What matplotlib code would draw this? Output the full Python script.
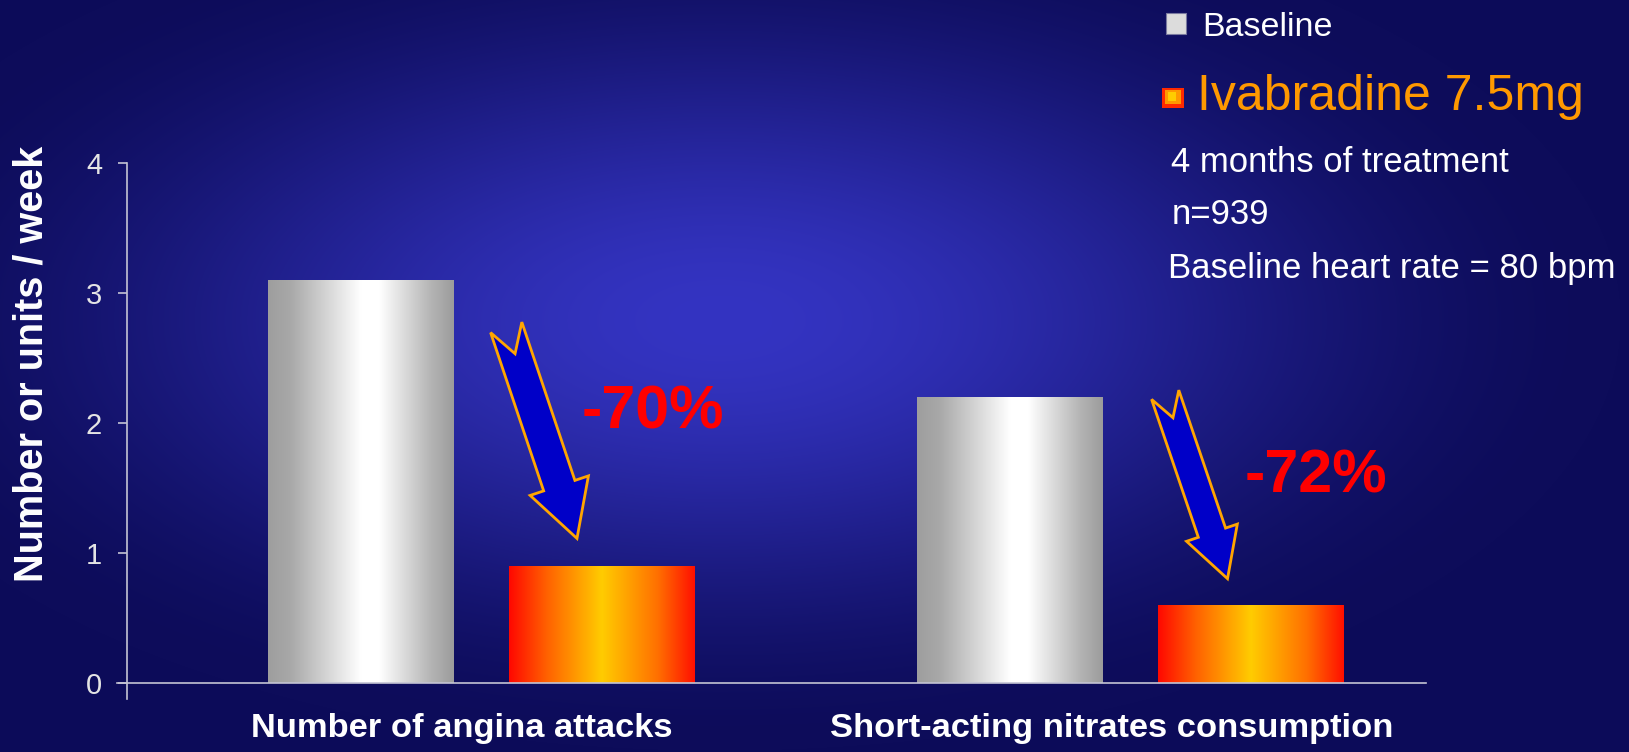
import numpy as np
import matplotlib.pyplot as plt
from matplotlib.colors import LinearSegmentedColormap
from matplotlib.patches import Polygon, Rectangle

plt.rcParams['font.family'] = ['Liberation Sans', 'DejaVu Sans']

categories = ['Number of angina attacks', 'Short-acting nitrates consumption']
baseline = [3.1, 2.2]
ivabradine = [0.9, 0.6]
reductions = ['-70%', '-72%']
yticks = [0, 1, 2, 3, 4]

# arrow tails / tip x and label anchors (data coords)
arrow_tails = [(0.568, 2.735), (1.583, 2.216)]
arrow_tip_x = [0.677, 1.679]
arrow_gap = [0.21, 0.20]
label_pos = [(0.684, 1.96), (1.705, 1.467)]

W, H = 1629, 752
fig = plt.figure(figsize=(W / 100, H / 100), dpi=100)


def px(x, y):
    return x / W, 1 - y / H


# navy backdrop with a blue glow in the middle
bg = fig.add_axes([0, 0, 1, 1])
yy, xx = np.mgrid[0:H, 0:W]
r = np.clip(np.sqrt(((xx - 720) / 900) ** 2 + ((yy - 320) / 430) ** 2), 0, 1)
f = (r * r * (3 - 2 * r))[..., None]
inner = np.array([0x34, 0x34, 0xc2]) / 255
outer = np.array([0x0d, 0x0c, 0x5a]) / 255
bg.imshow(inner * (1 - f) + outer * f, extent=[0, 1, 0, 1], aspect='auto', origin='upper')
bg.axis('off')

ax = fig.add_axes([0.0778, 0.0705, 0.7973, 0.7127])
ax.patch.set_visible(False)

x = np.arange(len(categories)) + 0.5
bw = 0.285
bars_b = ax.bar(x - 0.157, baseline, width=bw, color='#d0d0d0', zorder=2)
bars_i = ax.bar(x + 0.215, ivabradine, width=bw, color='#ffaa00', zorder=2)

steel = LinearSegmentedColormap.from_list('steel', [(0, '#9e9e9e'), (0.12, '#a8a8a8'), (0.5, '#ffffff'),
                                                    (0.6, '#ffffff'), (0.88, '#b4b4b4'), (1, '#9c9c9c')])
fire = LinearSegmentedColormap.from_list('fire', [(0, '#ff0800'), (0.2, '#ff6000'), (0.5, '#ffcc00'),
                                                  (0.8, '#ff7000'), (1, '#ff1000')])
ramp = np.linspace(0, 1, 256)[None, :]
for bars, cm in ((bars_b, steel), (bars_i, fire)):
    for b in bars:
        ax.imshow(ramp, cmap=cm, aspect='auto', zorder=3,
                  extent=[b.get_x(), b.get_x() + b.get_width(), 0, b.get_height()])

ax.set_xlim(-0.0165, 1.984)
ax.set_ylim(-0.126, 4)

axis_col = '#c4c4d4'
for s in ('top', 'right', 'bottom'):
    ax.spines[s].set_visible(False)
ax.spines['left'].set_color(axis_col)
ax.spines['left'].set_linewidth(1.2)
ax.plot([-0.031, 1.984], [0, 0], color=axis_col, lw=1.2, clip_on=False, zorder=4)

ax.set_yticks(yticks)
ax.tick_params(axis='y', length=6.8, width=1.2, color=axis_col, labelcolor='#e4e4e4',
               labelsize=21, pad=11)
ax.set_xticks(x, categories)
ax.tick_params(axis='x', length=0, pad=10, labelsize=24.8, labelcolor='white')
for t in ax.get_xticklabels():
    t.set_fontweight('bold')

fig.text(*px(32, 364), 'Number or units / week', rotation=90, ha='center', va='center',
         fontsize=28.5, fontweight='bold', color='white')


# notched block arrows pointing down at the treated bars
def block_arrow(tail, tip):
    p0 = ax.transData.transform(tail)
    p1 = ax.transData.transform(tip)
    d = p1 - p0
    L = np.hypot(*d)
    u = d / L
    n = np.array([-u[1], u[0]])
    shape = [(0, 0.074), (0.75, 0.074), (0.75, 0.138), (1, 0), (0.75, -0.138),
             (0.75, -0.074), (0, -0.074), (0.125, 0)]
    pts = np.array([p0 + s * L * u + t * L * n for s, t in shape])
    pts = ax.transData.inverted().transform(pts)
    ax.add_patch(Polygon(pts, closed=True, facecolor='#0000c8', edgecolor='#ffa500',
                         lw=2.0, joinstyle='miter', clip_on=False, zorder=5))


for i in range(len(categories)):
    tip = (arrow_tip_x[i], ivabradine[i] + arrow_gap[i])
    block_arrow(arrow_tails[i], tip)
    ax.text(*label_pos[i], reductions[i], color='#ff0000', fontsize=44, fontweight='bold',
            ha='left', va='baseline', zorder=6)

# legend and study notes
fig.add_artist(Rectangle(px(1166, 34.3), 20 / W, 21 / H, facecolor='#dcdcdc',
                         edgecolor='#7a7aa0', lw=0.8))
fig.text(*px(1202, 36), 'Baseline', fontsize=24.5, color='white', va='baseline')

fig.add_artist(Rectangle(px(1162, 107.7), 22 / W, 20 / H, facecolor='#ff2a00', lw=0))
fig.add_artist(Rectangle(px(1164.5, 104), 16 / W, 14 / H, facecolor='#ff9900', lw=0))
fig.add_artist(Rectangle(px(1167.5, 100.5), 8 / W, 8.5 / H, facecolor='#ffcc00', lw=0))
fig.text(*px(1197, 110), 'Ivabradine 7.5mg', fontsize=36, color='#ff9900', va='baseline')

notes = [('4 months of treatment', 1171, 171.5), ('n=939', 1172, 224),
         ('Baseline heart rate = 80 bpm', 1168, 278)]
for txt, nx, ny in notes:
    fig.text(*px(nx, ny), txt, fontsize=25, color='white', va='baseline')

fig.savefig('out.png', dpi=100)
